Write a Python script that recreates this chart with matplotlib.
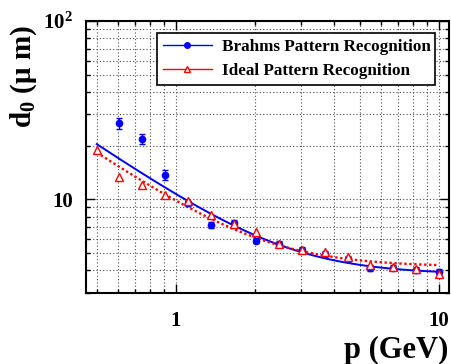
import matplotlib
matplotlib.use("Agg")

import numpy as np
import matplotlib.pyplot as plt
from matplotlib.lines import Line2D
from matplotlib.ticker import LogLocator, NullFormatter, FuncFormatter

# ---------------------------
# DATA
# ---------------------------

# momentum bins (GeV)
p_ideal = [0.5, 0.61, 0.745, 0.91, 1.11, 1.36, 1.66, 2.02, 2.47, 3.02,
           3.68, 4.5, 5.49, 6.71, 8.19, 10.0]
d0_ideal = [18.9, 13.4, 12.0, 10.6, 9.8, 8.2, 7.3, 6.55, 5.58, 5.17,
            5.07, 4.75, 4.30, 4.16, 4.07, 3.83]

p_brahms = [0.61, 0.745, 0.91, 1.11, 1.36, 1.66, 2.02, 2.47, 3.02,
            3.68, 4.5, 5.49, 6.71, 8.19, 10.0]
d0_brahms = [26.7, 21.8, 13.7, 9.5, 7.2, 7.33, 5.85, 5.6, 5.17,
             4.94, 4.63, 4.12, 4.14, 4.03, 3.90]
d0_brahms_err = [1.9, 1.5, 0.9, 0.3, 0.3, 0.3, 0.2, 0.2, 0.2,
                 0.2, 0.2, 0.15, 0.15, 0.15, 0.15]

# fit d0 = sqrt(a^2 + (b/p)^2)
fit_brahms = (3.79, 10.02)
fit_ideal = (4.18, 8.91)
fit_range = (0.5, 10.0)

# ---------------------------
# STYLE
# ---------------------------

plt.rcParams.update({
    "font.family": "Liberation Serif",
    "font.weight": "bold",
    "mathtext.fontset": "custom",
    "mathtext.rm": "Liberation Serif:bold",
    "mathtext.it": "Liberation Serif:italic:bold",
    "mathtext.bf": "Liberation Serif:bold",
})


def resolution(p, a, b):
    return np.sqrt(a**2 + (b / p)**2)


fig = plt.figure(figsize=(4.51, 3.64), dpi=100)
ax = fig.add_axes([0.190, 0.1964, 0.805, 0.7459])

ax.set_xscale("log")
ax.set_yscale("log")
ax.set_xlim(0.454, 10.9)
ax.set_ylim(3, 100)

# grid on every tick, ROOT style
ax.grid(True, which="both", color="0.3", linestyle=(0, (1, 2)), linewidth=0.8)
ax.set_axisbelow(True)

# fits
pp = np.logspace(np.log10(fit_range[0]), np.log10(fit_range[1]), 200)
ax.plot(pp, resolution(pp, *fit_brahms), color="blue", lw=1.4, zorder=3)
ax.plot(pp, resolution(pp, *fit_ideal), color="red", lw=1.7,
        linestyle=(0, (1, 1.1)), zorder=3)

# points
ax.errorbar(p_brahms, d0_brahms, yerr=d0_brahms_err, fmt="o", color="blue",
            ms=4.5, elinewidth=1, capsize=2.5, capthick=1, zorder=4)
ax.plot(p_ideal, d0_ideal, linestyle="none", marker="^", ms=6,
        mfc="white", mec="red", mew=1, zorder=5)

# ticks
ax.xaxis.set_major_locator(LogLocator(base=10, numticks=10))
ax.xaxis.set_minor_locator(LogLocator(base=10, subs=np.arange(2, 10), numticks=10))
ax.yaxis.set_major_locator(LogLocator(base=10, numticks=10))
ax.yaxis.set_minor_locator(LogLocator(base=10, subs=np.arange(2, 10), numticks=10))
ax.xaxis.set_minor_formatter(NullFormatter())
ax.yaxis.set_minor_formatter(NullFormatter())
ax.xaxis.set_major_formatter(FuncFormatter(lambda v, pos: f"{v:g}"))
ax.yaxis.set_major_formatter(FuncFormatter(
    lambda v, pos: "10" if abs(v - 10) < 1e-6 else r"$10^{%d}$" % round(np.log10(v))))

ax.tick_params(which="both", direction="in", top=True, right=True, width=1)
ax.tick_params(which="major", length=6.5)
ax.tick_params(which="minor", length=3.2)
ax.tick_params(axis="x", which="major", labelsize=15, pad=13)
ax.tick_params(axis="y", which="major", labelsize=15, pad=9)

for s in ax.spines.values():
    s.set_linewidth(1.5)

# axis titles
fig.text(448 / 451, 1 - 350 / 364, "p (GeV)", fontsize=22, ha="right", va="center")
fig.text(24 / 451, 1 - 77 / 364, r"$\mathrm{d_{0}}$ (μ m)", fontsize=21,
         rotation=90, ha="center", va="center")

# legend
handles = [
    Line2D([], [], color="blue", lw=1, marker="o", ms=4),
    Line2D([], [], color="red", lw=1, marker="^", ms=5, mfc="white", mec="red"),
]
leg = ax.legend(handles, ["Brahms Pattern Recognition", "Ideal Pattern Recognition"],
                loc="upper left", bbox_to_anchor=(0.1956, 0.956, 0.7666, 0.0),
                mode="expand", borderaxespad=0, fontsize=12.3, fancybox=False,
                framealpha=1, edgecolor="black", handlelength=2.9,
                handletextpad=0.6, labelspacing=0.45, borderpad=0.35)
leg.get_frame().set_linewidth(1.2)
leg.set_zorder(10)

fig.savefig("out.png", dpi=100)
